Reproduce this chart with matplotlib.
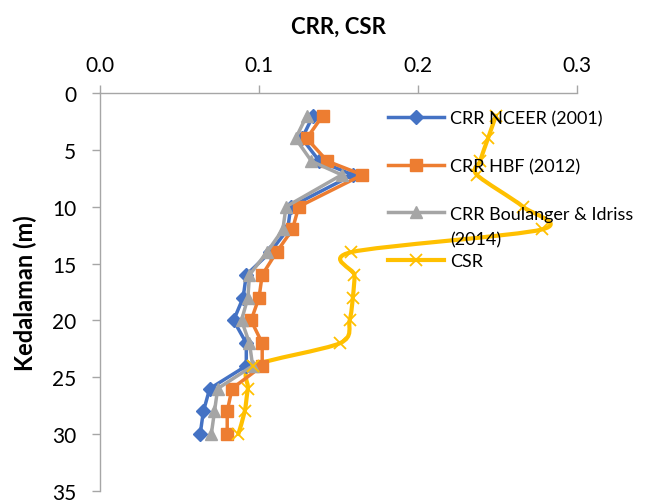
import numpy as np
import matplotlib.pyplot as plt
from matplotlib.path import Path
from matplotlib.patches import PathPatch
from matplotlib.lines import Line2D

plt.rcParams['font.family'] = ['Lato', 'DejaVu Sans']

# depth (m) and values
depth = [2, 4, 6, 7.2, 10, 12, 14, 16, 18, 20, 22, 24, 26, 28, 30]
crr_nceer = [0.134, 0.127, 0.138, 0.159, 0.120, 0.118, 0.107, 0.092, 0.090,
             0.084, 0.092, 0.092, 0.069, 0.065, 0.063]
crr_hbf = [0.140, 0.130, 0.143, 0.165, 0.125, 0.121, 0.111, 0.102, 0.100,
           0.095, 0.102, 0.102, 0.083, 0.080, 0.080]
crr_bi = [0.130, 0.123, 0.133, 0.152, 0.117, 0.115, 0.105, 0.094, 0.093,
          0.089, 0.094, 0.096, 0.074, 0.072, 0.070]
csr = [0.249, 0.244, 0.239, 0.237, 0.266, 0.278, 0.158, 0.160, 0.159,
       0.157, 0.151, 0.096, 0.093, 0.091, 0.087]

blue, orange, gray, yellow = '#4472C4', '#ED7D31', '#A5A5A5', '#FFC000'


def smooth_path(x, y, k=1 / 7):
    # smoothed line like Excel's: cubic Bezier through the points
    p = np.column_stack([x, y])
    verts = [p[0]]
    codes = [Path.MOVETO]
    for i in range(len(p) - 1):
        p0 = p[i - 1] if i > 0 else p[i]
        p3 = p[i + 2] if i + 2 < len(p) else p[i + 1]
        c1 = p[i] + (p[i + 1] - p0) * k
        c2 = p[i + 1] - (p3 - p[i]) * k
        verts += [c1, c2, p[i + 1]]
        codes += [Path.CURVE4] * 3
    return Path(verts, codes)


fig = plt.figure(figsize=(6.52, 5.02), dpi=100)
ax = fig.add_axes([0.1534, 0.02, 0.7316, 0.7928])

ax.plot(crr_nceer, depth, color=blue, lw=2.5, marker='D', ms=7)
ax.plot(crr_hbf, depth, color=orange, lw=2.5, marker='s', ms=9)
ax.plot(crr_bi, depth, color=gray, lw=2.5, marker='^', ms=9)
ax.add_patch(PathPatch(smooth_path(csr, depth), fill=False, edgecolor=yellow,
                       lw=3, capstyle='round', joinstyle='round'))
ax.plot(csr, depth, color=yellow, ls='none', marker='x', ms=8, mew=1.3)

ax.set_xlim(0, 0.3)
ax.set_ylim(35, 0)
ax.set_xticks([0.0, 0.1, 0.2, 0.3])
ax.set_xticklabels(['0.0', '0.1', '0.2', '0.3'])
ax.set_yticks(range(0, 36, 5))
ax.xaxis.tick_top()
ax.xaxis.set_label_position('top')
ax.set_xlabel('CRR, CSR', fontsize=16, fontweight='bold', labelpad=16)
ax.set_ylabel('Kedalaman (m)', fontsize=17, fontweight='bold', labelpad=11)
ax.tick_params(axis='both', labelsize=15, color='#A6A6A6', length=6, width=1)
ax.tick_params(axis='x', pad=7)
ax.tick_params(axis='y', pad=11)

for s in ['right', 'bottom']:
    ax.spines[s].set_visible(False)
for s in ['left', 'top']:
    ax.spines[s].set_color('#A6A6A6')
    ax.spines[s].set_linewidth(1)

handles = [
    Line2D([], [], color=blue, lw=2.5, marker='D', ms=7),
    Line2D([], [], color=orange, lw=2.5, marker='s', ms=9),
    Line2D([], [], color=gray, lw=2.5, marker='^', ms=9),
    Line2D([], [], color=yellow, lw=3, marker='x', ms=8, mew=1.3),
]
labels = ['CRR NCEER (2001)', 'CRR HBF (2012)', 'CRR Boulanger & Idriss', 'CSR']
leg = ax.legend(handles, labels, loc='upper left', bbox_to_anchor=(0.595, 0.778),
                bbox_transform=fig.transFigure, frameon=False, fontsize=13,
                handlelength=3.1, handletextpad=0.35, labelspacing=1.74,
                borderpad=0, borderaxespad=0)
ax.annotate('(2014)', xy=(0, 0), xycoords=leg.get_texts()[2],
            xytext=(0, -7), textcoords='offset points', va='top', ha='left',
            fontsize=13, zorder=10)

fig.savefig('out.png', dpi=100)
